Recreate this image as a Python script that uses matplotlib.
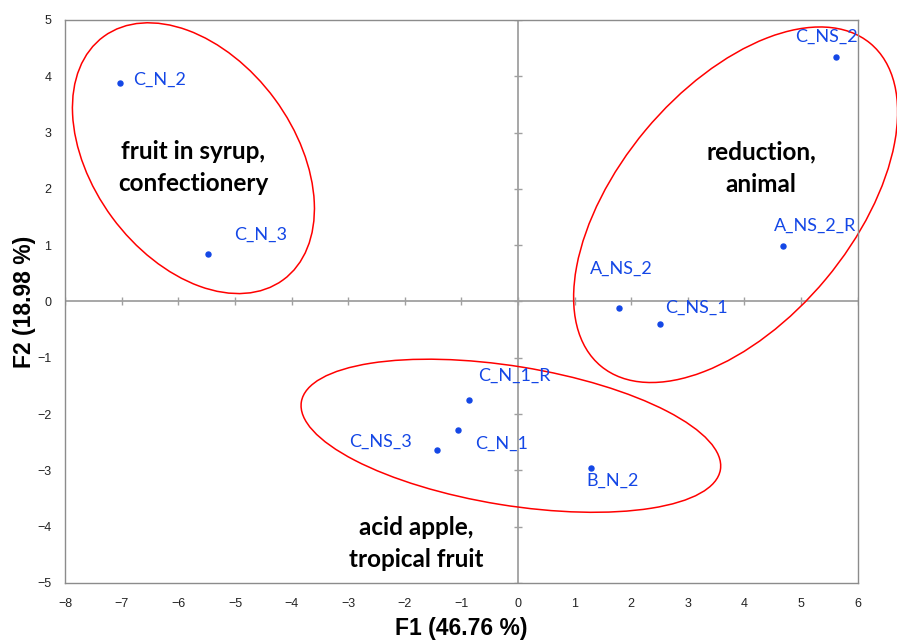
import matplotlib.pyplot as plt
import numpy as np
from matplotlib.patches import Ellipse

# sample scores on the first two factors
names = ["C_N_2", "C_N_3", "C_NS_2", "A_NS_2_R", "A_NS_2", "C_NS_1",
         "C_N_1_R", "C_N_1", "C_NS_3", "B_N_2"]
f1 = [-7.03, -5.48, 5.62, 4.68, 1.78, 2.50, -0.87, -1.06, -1.44, 1.28]
f2 = [3.88, 0.84, 4.35, 0.99, -0.12, -0.40, -1.75, -2.28, -2.63, -2.96]

# group ellipses: centre x, centre y, width, height, angle
groups = ["fruit in syrup,\nconfectionery", "reduction,\nanimal", "acid apple,\ntropical fruit"]
ell_cx = [-5.735, 3.843, -0.127]
ell_cy = [2.545, 1.718, -2.385]
ell_w = [5.36, 7.45, 7.50]
ell_h = [3.56, 4.14, 2.47]
ell_ang = [-53.8, 50.35, -9.24]
group_x = [-5.737, 4.29, -1.806]
group_y = [2.38, 2.366, -4.295]

xticks = np.arange(-8, 7, 1)
yticks = np.arange(-5, 6, 1)

# label placement (pixels from the point, alignment)
lab_off = [(13, 3), (26, 19), (-10, 20), (32, 20), (2, 39), (6, 16),
           (9, 24), (17, -14), (-25, 8), (-4, -13)]
lab_ha = ["left", "left", "center", "center", "center", "left",
          "left", "left", "right", "left"]

blue = "#1447e6"
gray = "#8c8c8c"

fig = plt.figure(figsize=(8.97, 6.4), dpi=100)
ax = fig.add_axes([0.0727, 0.0891, 0.8835, 0.8797])
ax.set_xlim(-8, 6)
ax.set_ylim(-5, 5)

for s in ax.spines.values():
    s.set_color(gray)
    s.set_linewidth(1.0)

ax.set_xticks(xticks)
ax.set_yticks(yticks)
ax.tick_params(length=0, labelsize=9, labelcolor="#222222", pad=10)
ax.tick_params(axis="x", pad=11)
for lbl in ax.get_xticklabels() + ax.get_yticklabels():
    lbl.set_fontfamily("Liberation Sans")

# axes through the origin with crossing tick marks
ax.axhline(0, color="#a0a0a0", lw=1.3, zorder=1)
ax.axvline(0, color="#a0a0a0", lw=1.3, zorder=1)
ax.plot(xticks, np.zeros_like(xticks), ls="none", marker="|", ms=6,
        mew=1.0, color="#a0a0a0", zorder=1)
ax.plot(np.zeros_like(yticks), yticks, ls="none", marker="_", ms=6,
        mew=1.0, color="#a0a0a0", zorder=1)

ax.plot(f1, f2, ls="none", marker="o", ms=3.6, color=blue, zorder=3)
for n, x, y, off, ha in zip(names, f1, f2, lab_off, lab_ha):
    ax.annotate(n, (x, y), xytext=off, textcoords="offset pixels",
                ha=ha, va="center", color=blue, fontsize=13,
                fontfamily="Lato", zorder=4)

for cx, cy, w, h, a in zip(ell_cx, ell_cy, ell_w, ell_h, ell_ang):
    e = Ellipse((cx, cy), w, h, angle=a, fill=False, ec="#ff0000",
                lw=1.1, clip_on=False, zorder=2)
    ax.add_patch(e)

for g, x, y in zip(groups, group_x, group_y):
    ax.text(x, y, g, ha="center", va="center", fontsize=17.5,
            fontweight="bold", fontfamily="Lato", linespacing=1.5)

ax.set_xlabel("F1 (46.76 %)", fontsize=16.5, fontweight="bold",
              fontfamily="Liberation Sans", labelpad=5)
ax.set_ylabel("F2 (18.98 %)", fontsize=16.5, fontweight="bold",
              fontfamily="Liberation Sans", labelpad=1)

fig.savefig("out.png", dpi=100)
